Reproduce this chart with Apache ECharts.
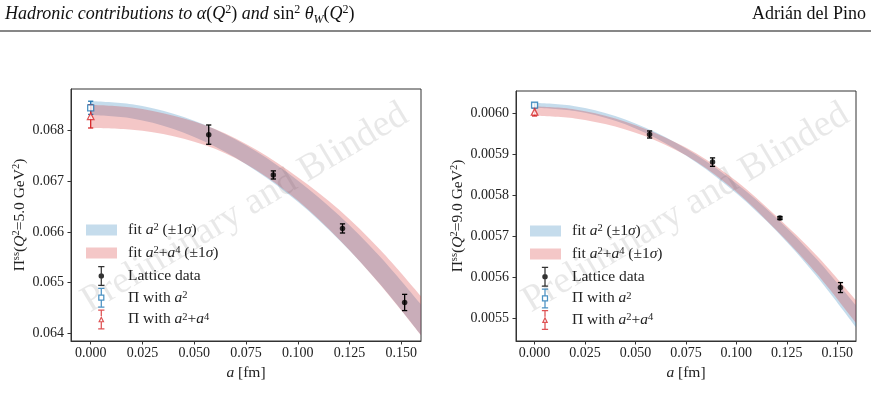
<!DOCTYPE html>
<html>
<head>
<meta charset="utf-8">
<script src="https://cdn.jsdelivr.net/npm/echarts@6/dist/echarts.min.js"></script>
<style>
html, body { margin: 0; padding: 0; background: #fff; }
#main { width: 871px; height: 410px; }
</style>
</head>
<body>
<div id="main"></div>
<script>
// lattice spacings [fm]
var aFit = [0, 0.02, 0.04, 0.06, 0.08, 0.10, 0.12, 0.14, 0.16];
var aLat = [0.0570, 0.0882, 0.1216, 0.1516];
var aExt = [0];

// Q^2 = 5.0 GeV^2
var lat5 = [0.06792, 0.067125, 0.06607, 0.06461];
var latErr5 = [0.00019, 0.00008, 0.00009, 0.00016];
var ext2_5 = [0.068449];
var ext2Err5 = [0.00013];
var ext24_5 = [0.068281];
var ext24Err5 = [0.00023];
var fit2Lo5 = [0.068305, 0.068239, 0.068033, 0.067685, 0.067205, 0.066595, 0.065843, 0.064961, 0.063945];
var fit2Hi5 = [0.068585, 0.068519, 0.068333, 0.068025, 0.067585, 0.067015, 0.066323, 0.065501, 0.064545];
var fit24Lo5 = [0.06805, 0.068014, 0.06789, 0.06764, 0.06722, 0.06662, 0.06585, 0.06495, 0.06394];
var fit24Hi5 = [0.06851, 0.068454, 0.06829, 0.06803, 0.06762, 0.06708, 0.06644, 0.06564, 0.06471];

// Q^2 = 9.0 GeV^2
var lat9 = [0.0059487, 0.0058812, 0.0057445, 0.0055746];
var latErr9 = [0.0000086, 0.0000103, 0.0000037, 0.0000122];
var ext2_9 = [0.0060203];
var ext2Err9 = [0.000006];
var ext24_9 = [0.006004];
var ext24Err9 = [0.00001];
var fit2Lo9 = [0.006014, 0.006006, 0.005982, 0.005940, 0.005881, 0.005805, 0.005712, 0.005601, 0.005473];
var fit2Hi9 = [0.006026, 0.006018, 0.005994, 0.005954, 0.005899, 0.005829, 0.005744, 0.005643, 0.005527];
var fit24Lo9 = [0.0059945, 0.005988, 0.005968, 0.005934, 0.005883, 0.005809, 0.005714, 0.005608, 0.005484];
var fit24Hi9 = [0.0060175, 0.006010, 0.005988, 0.005952, 0.005903, 0.005835, 0.005748, 0.005652, 0.00554];

// ticks
var xTicks = [0, 0.025, 0.05, 0.075, 0.1, 0.125, 0.15];
var yTicks5 = [0.064, 0.065, 0.066, 0.067, 0.068];
var yTicks9 = [0.0055, 0.0056, 0.0057, 0.0058, 0.0059, 0.006];

var FONT = 'Liberation Serif';
var INK = '#222';
var BLUE = '#1f77b4', RED = '#d62728';
var BLUE_FILL = 'rgba(31,119,180,0.26)', RED_FILL = 'rgba(214,39,40,0.26)';
var LFS = 15.5; // legend / axis-name font size

var rich = {
    i: { fontFamily: FONT, fontStyle: 'italic', fontSize: LFS, color: INK },
    s: { fontFamily: FONT, fontSize: 10.5, verticalAlign: 'top', lineHeight: 11, color: INK }
};

function spline(p) {
    var d = '';
    for (var i = 0; i < p.length - 1; i++) {
        var p0 = p[Math.max(i - 1, 0)], p1 = p[i], p2 = p[i + 1], p3 = p[Math.min(i + 2, p.length - 1)];
        var c1 = [p1[0] + (p2[0] - p0[0]) / 6, p1[1] + (p2[1] - p0[1]) / 6];
        var c2 = [p2[0] - (p3[0] - p1[0]) / 6, p2[1] - (p3[1] - p1[1]) / 6];
        d += 'C' + c1.join(',') + ' ' + c2.join(',') + ' ' + p2.join(',');
    }
    return d;
}

function bandSeries(name, idx, lo, hi, fill) {
    return {
        name: name,
        type: 'custom',
        xAxisIndex: idx, yAxisIndex: idx,
        clip: true,
        z: 1,
        silent: true,
        data: aFit.map(function (a, i) { return [a, lo[i], hi[i]]; }),
        encode: { x: 0, y: [1, 2] },
        renderItem: function (params, api) {
            if (params.dataIndex !== 0) return;
            var up = aFit.map(function (a, i) { return api.coord([a, hi[i]]); });
            var dn = aFit.map(function (a, i) { return api.coord([a, lo[i]]); }).reverse();
            var d = 'M' + up[0].join(',') + spline(up) + 'L' + dn[0].join(',') + spline(dn) + 'Z';
            return { type: 'path', shape: { pathData: d }, style: { fill: fill, stroke: null } };
        }
    };
}

function errSeries(name, idx, xs, vs, es, color) {
    return {
        name: name,
        type: 'custom',
        xAxisIndex: idx, yAxisIndex: idx,
        z: 3,
        silent: true,
        data: xs.map(function (x, i) { return [x, vs[i], es[i]]; }),
        encode: { x: 0, y: 1 },
        renderItem: function (params, api) {
            var x = api.value(0), v = api.value(1), e = api.value(2);
            var top = api.coord([x, v + e]);
            var bot = api.coord([x, v - e]);
            var st = { stroke: color, lineWidth: 1.3 };
            return {
                type: 'group',
                children: [
                    { type: 'line', shape: { x1: top[0], y1: top[1], x2: bot[0], y2: bot[1] }, style: st },
                    { type: 'line', shape: { x1: top[0] - 2.6, y1: top[1], x2: top[0] + 2.6, y2: top[1] }, style: st },
                    { type: 'line', shape: { x1: bot[0] - 2.6, y1: bot[1], x2: bot[0] + 2.6, y2: bot[1] }, style: st }
                ]
            };
        }
    };
}

function markSeries(name, idx, xs, vs, symbol, size, style) {
    return {
        name: name,
        type: 'scatter',
        xAxisIndex: idx, yAxisIndex: idx,
        z: 4,
        silent: true,
        symbol: symbol,
        symbolSize: size,
        itemStyle: style,
        data: xs.map(function (x, i) { return [x, vs[i]]; })
    };
}

// legend icons (error bar + marker), 5 x 16 units
var iconLat = 'path://M2,0L3,0L3,16L2,16Z M0,0L5,0L5,1L0,1Z M0,15L5,15L5,16L0,16Z M4.7,8A2.2,2.2 0 1,1 0.3,8A2.2,2.2 0 1,1 4.7,8Z';
var iconSq = 'path://M2,0L3,0L3,5.5L2,5.5Z M2,10.5L3,10.5L3,16L2,16Z M0,0L5,0L5,1L0,1Z M0,15L5,15L5,16L0,16Z M0,5.5L5,5.5L5,10.5L0,10.5Z M1,6.5L1,9.5L4,9.5L4,6.5Z';
var iconTri = 'path://M2,0L3,0L3,5.3L2,5.3Z M2,10.3L3,10.3L3,16L2,16Z M0,0L5,0L5,1L0,1Z M0,15L5,15L5,16L0,16Z M2.5,5.2L5,10.3L0,10.3Z M2.5,7.3L1.5,9.4L3.5,9.4Z';

var legendText = {
    fit2: 'fit {i|a}{s|2} (±1{i|σ})',
    fit24: 'fit {i|a}{s|2}+{i|a}{s|4} (±1{i|σ})',
    lat: 'Lattice data',
    ext2: 'Π with {i|a}{s|2}',
    ext24: 'Π with {i|a}{s|2}+{i|a}{s|4}'
};

// legend symbols are drawn at 80% of the item box
var BAR_W = 6.25, BAR_H = 20;

function legends(left, patchTop, barTop, barCenterX) {
    var textX = left + 42;
    return [{
        orient: 'vertical', left: left, top: patchTop, padding: 0,
        itemWidth: 31, itemHeight: 11, itemGap: 7, icon: 'rect',
        selectedMode: false,
        data: [
            { name: 'fit2', itemStyle: { color: BLUE_FILL, borderWidth: 0 } },
            { name: 'fit24', itemStyle: { color: RED_FILL, borderWidth: 0 } }
        ],
        formatter: function (n) { return legendText[n]; },
        textStyle: { fontFamily: FONT, fontSize: LFS, color: INK, lineHeight: 16, padding: [0, 0, 0, textX - left - 31 - 5], rich: rich }
    }, {
        orient: 'vertical', left: barCenterX - BAR_W / 2, top: barTop, padding: 0,
        itemWidth: BAR_W, itemHeight: BAR_H, itemGap: 1.7,
        selectedMode: false,
        data: [
            { name: 'lat', icon: iconLat, itemStyle: { color: '#000', borderWidth: 0 } },
            { name: 'ext2', icon: iconSq, itemStyle: { color: BLUE, borderWidth: 0 } },
            { name: 'ext24', icon: iconTri, itemStyle: { color: RED, borderWidth: 0 } }
        ],
        formatter: function (n) { return legendText[n]; },
        textStyle: { fontFamily: FONT, fontSize: LFS, color: INK, lineHeight: 16,
            padding: [0, 0, 0, textX - (barCenterX - BAR_W / 2) - BAR_W - 5], rich: rich }
    }];
}

function xAxis(idx, min, max) {
    return {
        type: 'value', gridIndex: idx, min: min, max: max,
        name: '{i|a} [fm]', nameLocation: 'middle', nameGap: 20,
        nameTextStyle: { fontFamily: FONT, fontSize: LFS, color: INK, rich: rich },
        axisLine: { show: true, onZero: false, lineStyle: { color: '#333', width: 1 } },
        axisTick: { show: true, length: 3.5, customValues: xTicks, lineStyle: { color: '#333' } },
        axisLabel: { customValues: xTicks, margin: 5, fontFamily: FONT, fontSize: 14, color: INK,
            formatter: function (v) { return v.toFixed(3); } },
        splitLine: { show: false }
    };
}

function yAxis(idx, min, max, ticks, dec, label, gap) {
    return {
        type: 'value', gridIndex: idx, min: min, max: max,
        name: label, nameLocation: 'middle', nameGap: gap, nameRotate: 90,
        nameTextStyle: { fontFamily: FONT, fontSize: LFS, color: INK, lineHeight: 18, rich: rich },
        axisLine: { show: true, onZero: false, lineStyle: { color: '#333', width: 1 } },
        axisTick: { show: true, length: 3.5, customValues: ticks, lineStyle: { color: '#333' } },
        axisLabel: { customValues: ticks, margin: 7, fontFamily: FONT, fontSize: 14, color: INK,
            formatter: function (v) { return v.toFixed(dec); } },
        splitLine: { show: false }
    };
}

function watermark(cx, cy) {
    return {
        type: 'text', x: cx, y: cy, rotation: 31 * Math.PI / 180, z: 0, silent: true,
        style: { text: 'Preliminary and Blinded', fontFamily: FONT, fontSize: 38,
            fill: 'rgba(0,0,0,0.09)', align: 'center', verticalAlign: 'middle' }
    };
}

var myChart = echarts.init(document.getElementById('main'), null, { renderer: 'canvas' });
var option = {
    animation: false,
    backgroundColor: '#fff',
    grid: [
        { left: 71, top: 89, width: 350, height: 252, show: true, borderColor: '#333', borderWidth: 1 },
        { left: 516, top: 91, width: 340, height: 250, show: true, borderColor: '#333', borderWidth: 1 }
    ],
    xAxis: [xAxis(0, -0.0095, 0.1595), xAxis(1, -0.0092, 0.1593)],
    yAxis: [
        yAxis(0, 0.06385, 0.06882, yTicks5, 3, 'Π{s|ss}({i|Q}{s|2}=5.0 GeV{s|2})', 38),
        yAxis(1, 0.005444, 0.006055, yTicks9, 4, 'Π{s|ss}({i|Q}{s|2}=9.0 GeV{s|2})', 48)
    ],
    legend: legends(86, 222, 266, 101.3).concat(legends(530, 223, 266.7, 545)),
    graphic: [
        {
            type: 'text', x: 5, y: 14.5, silent: true,
            style: {
                text: 'Hadronic contributions to α{r|(}{i|Q}{sup|2}{r|)} and {r|sin}{sup|2} θ{sub|W}{r|(}{i|Q}{sup|2}{r|)}',
                fontFamily: FONT, fontSize: 18, fontStyle: 'italic', fill: '#111', verticalAlign: 'middle', lineHeight: 22,
                rich: {
                    r: { fontFamily: FONT, fontSize: 18, fontStyle: 'normal', fill: '#111' },
                    i: { fontFamily: FONT, fontSize: 18, fontStyle: 'italic', fill: '#111' },
                    sup: { fontFamily: FONT, fontSize: 12, fontStyle: 'normal', verticalAlign: 'top', lineHeight: 12, fill: '#111' },
                    sub: { fontFamily: FONT, fontSize: 12, fontStyle: 'italic', verticalAlign: 'bottom', lineHeight: 12, fill: '#111' }
                }
            }
        },
        {
            type: 'text', x: 866, y: 14.5, silent: true,
            style: { text: 'Adrián del Pino', fontFamily: FONT, fontSize: 18, fill: '#111', align: 'right', verticalAlign: 'middle' }
        },
        { type: 'line', silent: true, shape: { x1: 0, y1: 31, x2: 871, y2: 31 }, style: { stroke: '#111', lineWidth: 1.2 } },
        watermark(245, 208),
        watermark(686, 208)
    ],
    series: [
        bandSeries('fit2', 0, fit2Lo5, fit2Hi5, BLUE_FILL),
        bandSeries('fit24', 0, fit24Lo5, fit24Hi5, RED_FILL),
        errSeries('latErr', 0, aLat, lat5, latErr5, '#000'),
        errSeries('ext2Err', 0, aExt, ext2_5, ext2Err5, BLUE),
        errSeries('ext24Err', 0, aExt, ext24_5, ext24Err5, RED),
        markSeries('lat', 0, aLat, lat5, 'circle', 5.5, { color: '#000' }),
        markSeries('ext2', 0, aExt, ext2_5, 'rect', 6, { color: '#fff', borderColor: BLUE, borderWidth: 1.3 }),
        markSeries('ext24', 0, aExt, ext24_5, 'triangle', 6.5, { color: '#fff', borderColor: RED, borderWidth: 1.3 }),

        bandSeries('fit2', 1, fit2Lo9, fit2Hi9, BLUE_FILL),
        bandSeries('fit24', 1, fit24Lo9, fit24Hi9, RED_FILL),
        errSeries('latErr', 1, aLat, lat9, latErr9, '#000'),
        errSeries('ext2Err', 1, aExt, ext2_9, ext2Err9, BLUE),
        errSeries('ext24Err', 1, aExt, ext24_9, ext24Err9, RED),
        markSeries('lat', 1, aLat, lat9, 'circle', 5.5, { color: '#000' }),
        markSeries('ext2', 1, aExt, ext2_9, 'rect', 6, { color: '#fff', borderColor: BLUE, borderWidth: 1.3 }),
        markSeries('ext24', 1, aExt, ext24_9, 'triangle', 6.5, { color: '#fff', borderColor: RED, borderWidth: 1.3 })
    ]
};
myChart.setOption(option);
</script>
</body>
</html>
